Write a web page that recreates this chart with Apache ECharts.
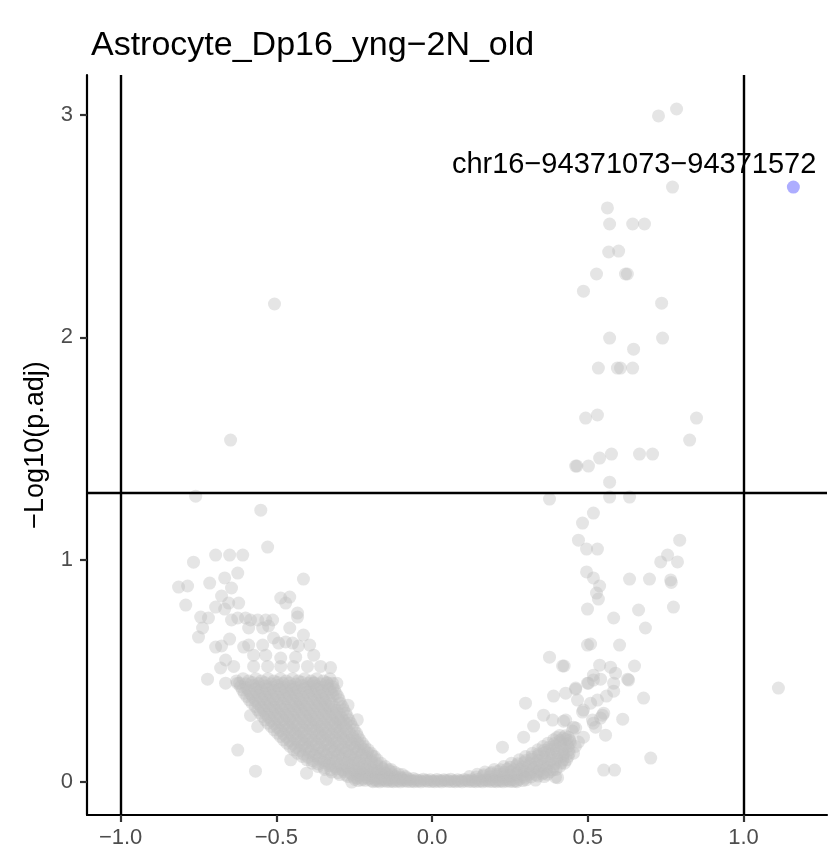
<!DOCTYPE html>
<html>
<head>
<meta charset="utf-8">
<script src="https://cdn.jsdelivr.net/npm/echarts@6/dist/echarts.min.js"></script>
<style>html,body{margin:0;padding:0;background:#fff;}#c{width:830px;height:857px;}</style>
</head>
<body>
<div id="c"></div>
<script>
const chartTitle = 'Astrocyte_Dp16_yng\u22122N_old';
const yAxisTitle = '\u2212Log10(p.adj)';
const xTicks = [-1, -0.5, 0, 0.5, 1];
const yTicks = [0, 1, 2, 3];
const xLimits = [-1.108, 1.268];
const yLimits = [-0.148, 3.18];
const vLines = [-1, 1];
const hLines = [1.30103];

// dense lower-left arm of the volcano (first layer)
const leftArm = [
[-0.628,0.455],[-0.607,0.465],[-0.589,0.455],[-0.566,0.465],[-0.548,0.455],[-0.527,0.465],[-0.508,0.455],[-0.487,0.465],[-0.469,0.455],[-0.448,0.465],[-0.43,0.455],[-0.409,0.465],[-0.388,0.455],[-0.37,0.465],[-0.349,0.455],[-0.328,0.465],
[-0.615,0.43],[-0.596,0.425],[-0.574,0.435],[-0.556,0.428],[-0.535,0.432],[-0.515,0.426],[-0.496,0.434],[-0.476,0.428],[-0.455,0.431],[-0.437,0.425],[-0.416,0.434],[-0.397,0.428],[-0.377,0.432],[-0.357,0.427],[-0.336,0.433],[-0.318,0.428],
[-0.603,0.4],[-0.582,0.396],[-0.562,0.404],[-0.543,0.398],[-0.523,0.402],[-0.503,0.397],[-0.484,0.405],[-0.463,0.399],[-0.443,0.401],[-0.424,0.396],[-0.404,0.404],[-0.384,0.398],[-0.364,0.402],[-0.345,0.397],[-0.324,0.403],[-0.308,0.398],
[-0.587,0.37],[-0.567,0.366],[-0.547,0.374],[-0.528,0.368],[-0.508,0.372],[-0.488,0.367],[-0.468,0.375],[-0.449,0.369],[-0.428,0.371],[-0.41,0.366],[-0.389,0.374],[-0.369,0.368],[-0.35,0.372],[-0.33,0.367],[-0.298,0.37],
[-0.568,0.34],[-0.548,0.336],[-0.529,0.344],[-0.509,0.338],[-0.49,0.342],[-0.47,0.337],[-0.45,0.345],[-0.431,0.339],[-0.411,0.341],[-0.392,0.336],[-0.372,0.344],[-0.352,0.338],[-0.333,0.342],[-0.313,0.337],[-0.288,0.34],
[-0.552,0.31],[-0.533,0.306],[-0.513,0.314],[-0.494,0.308],[-0.474,0.312],[-0.455,0.307],[-0.435,0.315],[-0.416,0.309],[-0.396,0.311],[-0.377,0.306],[-0.357,0.314],[-0.338,0.308],[-0.318,0.312],[-0.298,0.307],[-0.277,0.31],
[-0.536,0.28],[-0.516,0.276],[-0.497,0.284],[-0.477,0.278],[-0.458,0.282],[-0.438,0.277],[-0.419,0.285],[-0.399,0.279],[-0.38,0.281],[-0.36,0.276],[-0.341,0.284],[-0.321,0.278],[-0.302,0.282],[-0.284,0.277],[-0.267,0.28],
[-0.517,0.25],[-0.497,0.246],[-0.478,0.254],[-0.458,0.248],[-0.439,0.252],[-0.419,0.247],[-0.4,0.255],[-0.381,0.249],[-0.361,0.251],[-0.342,0.246],[-0.322,0.254],[-0.303,0.248],[-0.285,0.252],[-0.256,0.25],
[-0.496,0.22],[-0.477,0.216],[-0.457,0.224],[-0.438,0.218],[-0.419,0.222],[-0.4,0.217],[-0.38,0.225],[-0.361,0.219],[-0.342,0.221],[-0.322,0.216],[-0.303,0.224],[-0.284,0.218],[-0.265,0.222],[-0.243,0.22],
[-0.477,0.19],[-0.457,0.186],[-0.438,0.194],[-0.419,0.188],[-0.4,0.192],[-0.381,0.187],[-0.361,0.195],[-0.342,0.189],[-0.323,0.191],[-0.304,0.186],[-0.285,0.194],[-0.266,0.188],[-0.248,0.192],[-0.232,0.19],
[-0.456,0.16],[-0.437,0.156],[-0.418,0.164],[-0.399,0.158],[-0.38,0.162],[-0.361,0.157],[-0.342,0.165],[-0.323,0.159],[-0.304,0.161],[-0.285,0.156],[-0.266,0.164],[-0.248,0.158],[-0.23,0.162],[-0.216,0.16],
[-0.432,0.13],[-0.413,0.126],[-0.394,0.134],[-0.375,0.128],[-0.356,0.132],[-0.337,0.127],[-0.318,0.135],[-0.299,0.129],[-0.28,0.131],[-0.261,0.126],[-0.242,0.134],[-0.224,0.128],[-0.208,0.132],[-0.196,0.13],
[-0.402,0.1],[-0.383,0.096],[-0.364,0.104],[-0.345,0.098],[-0.326,0.102],[-0.307,0.097],[-0.288,0.105],[-0.269,0.099],[-0.25,0.101],[-0.232,0.096],[-0.213,0.104],[-0.195,0.098],[-0.176,0.1],
[-0.367,0.07],[-0.348,0.066],[-0.329,0.074],[-0.31,0.068],[-0.291,0.072],[-0.272,0.067],[-0.253,0.075],[-0.235,0.069],[-0.216,0.071],[-0.197,0.066],[-0.178,0.074],[-0.162,0.068],[-0.15,0.07],
[-0.322,0.045],[-0.303,0.042],[-0.284,0.048],[-0.265,0.043],[-0.246,0.047],[-0.227,0.042],[-0.209,0.049],[-0.19,0.044],[-0.171,0.046],[-0.152,0.042],[-0.134,0.048],[-0.12,0.044],
[-0.27,0.025],[-0.251,0.022],[-0.232,0.028],[-0.213,0.023],[-0.195,0.027],[-0.176,0.022],[-0.157,0.028],[-0.138,0.023],[-0.12,0.026],[-0.1,0.022],[-0.085,0.025]
];

// dense lower-left arm (second, interleaved layer)
const leftArmB = [
[-0.618,0.445],[-0.598,0.442],[-0.578,0.448],[-0.557,0.443],[-0.537,0.447],[-0.517,0.442],[-0.497,0.448],[-0.478,0.444],[-0.458,0.446],[-0.438,0.441],[-0.419,0.449],[-0.398,0.443],[-0.379,0.447],[-0.359,0.442],[-0.338,0.448],[-0.32,0.445],
[-0.609,0.415],[-0.589,0.412],[-0.568,0.418],[-0.549,0.413],[-0.529,0.417],[-0.509,0.412],[-0.489,0.418],[-0.469,0.414],[-0.449,0.416],[-0.43,0.411],[-0.41,0.419],[-0.39,0.413],[-0.37,0.417],[-0.351,0.412],[-0.33,0.418],[-0.313,0.415],
[-0.595,0.385],[-0.575,0.382],[-0.555,0.388],[-0.535,0.383],[-0.515,0.387],[-0.495,0.382],[-0.476,0.388],[-0.456,0.384],[-0.436,0.386],[-0.417,0.381],[-0.397,0.389],[-0.377,0.383],[-0.357,0.387],[-0.338,0.382],[-0.318,0.388],[-0.302,0.385],
[-0.578,0.355],[-0.558,0.352],[-0.538,0.358],[-0.519,0.353],[-0.499,0.357],[-0.479,0.352],[-0.459,0.358],[-0.44,0.354],[-0.42,0.356],[-0.401,0.351],[-0.381,0.359],[-0.361,0.353],[-0.342,0.357],[-0.322,0.352],[-0.295,0.355],
[-0.56,0.325],[-0.541,0.322],[-0.521,0.328],[-0.502,0.323],[-0.482,0.327],[-0.462,0.322],[-0.443,0.328],[-0.423,0.324],[-0.404,0.326],[-0.384,0.321],[-0.365,0.329],[-0.345,0.323],[-0.325,0.327],[-0.306,0.322],[-0.284,0.325],
[-0.544,0.295],[-0.525,0.292],[-0.505,0.298],[-0.486,0.293],[-0.466,0.297],[-0.447,0.292],[-0.427,0.298],[-0.408,0.294],[-0.388,0.296],[-0.369,0.291],[-0.349,0.299],[-0.33,0.293],[-0.31,0.297],[-0.291,0.292],[-0.272,0.295],
[-0.527,0.265],[-0.507,0.262],[-0.488,0.268],[-0.468,0.263],[-0.449,0.267],[-0.429,0.262],[-0.41,0.268],[-0.39,0.264],[-0.371,0.266],[-0.351,0.261],[-0.332,0.269],[-0.312,0.263],[-0.294,0.267],[-0.276,0.262],[-0.262,0.265],
[-0.507,0.235],[-0.487,0.232],[-0.468,0.238],[-0.448,0.233],[-0.429,0.237],[-0.41,0.232],[-0.39,0.238],[-0.371,0.234],[-0.352,0.236],[-0.332,0.231],[-0.313,0.239],[-0.294,0.233],[-0.275,0.237],[-0.25,0.235],
[-0.487,0.205],[-0.467,0.202],[-0.448,0.208],[-0.429,0.203],[-0.41,0.207],[-0.39,0.202],[-0.371,0.208],[-0.352,0.204],[-0.333,0.206],[-0.313,0.201],[-0.294,0.209],[-0.275,0.203],[-0.256,0.207],[-0.238,0.205],
[-0.466,0.175],[-0.447,0.172],[-0.428,0.178],[-0.409,0.173],[-0.39,0.177],[-0.371,0.172],[-0.352,0.178],[-0.333,0.174],[-0.314,0.176],[-0.295,0.171],[-0.276,0.179],[-0.257,0.173],[-0.239,0.177],[-0.224,0.175],
[-0.444,0.145],[-0.425,0.142],[-0.406,0.148],[-0.387,0.143],[-0.368,0.147],[-0.349,0.142],[-0.33,0.148],[-0.311,0.144],[-0.292,0.146],[-0.273,0.141],[-0.254,0.149],[-0.236,0.143],[-0.219,0.147],[-0.205,0.145],
[-0.417,0.115],[-0.398,0.112],[-0.379,0.118],[-0.36,0.113],[-0.341,0.117],[-0.322,0.112],[-0.303,0.118],[-0.284,0.114],[-0.265,0.116],[-0.246,0.111],[-0.228,0.119],[-0.21,0.113],[-0.192,0.117],[-0.185,0.115],
[-0.385,0.085],[-0.366,0.082],[-0.347,0.088],[-0.328,0.083],[-0.309,0.087],[-0.29,0.082],[-0.271,0.088],[-0.252,0.084],[-0.234,0.086],[-0.215,0.081],[-0.196,0.089],[-0.178,0.083],[-0.164,0.085],
[-0.345,0.057],[-0.326,0.055],[-0.307,0.059],[-0.288,0.056],[-0.269,0.058],[-0.25,0.054],[-0.231,0.06],[-0.213,0.056],[-0.194,0.058],[-0.175,0.054],[-0.157,0.059],[-0.14,0.056],[-0.132,0.057],
[-0.296,0.034],[-0.277,0.032],[-0.258,0.036],[-0.239,0.033],[-0.22,0.035],[-0.201,0.032],[-0.183,0.037],[-0.164,0.033],[-0.145,0.035],[-0.126,0.032],[-0.108,0.036],[-0.095,0.034],
[-0.24,0.018],[-0.22,0.017],[-0.2,0.019],[-0.18,0.017],[-0.16,0.018],[-0.14,0.016],[-0.12,0.019],[-0.1,0.017],[-0.08,0.018],[-0.06,0.016]
];

// flat floor around zero fold change
const floorPts = [
[-0.248,0.012],[-0.226,0.01],[-0.204,0.013],[-0.182,0.011],[-0.16,0.012],[-0.138,0.01],[-0.116,0.013],[-0.094,0.011],[-0.072,0.012],[-0.05,0.01],[-0.028,0.013],[-0.006,0.011],[0.016,0.012],[0.038,0.01],[0.06,0.013],[0.082,0.011],[0.104,0.012],[0.126,0.01],[0.148,0.013],[0.17,0.011],[0.192,0.012],[0.214,0.01],[0.236,0.013],[0.258,0.011],[0.28,0.012],[0.302,0.01],
[-0.19,0.002],[-0.168,0.001],[-0.146,0.003],[-0.124,0.002],[-0.102,0.001],[-0.08,0.003],[-0.058,0.002],[-0.036,0.001],[-0.014,0.003],[0.008,0.002],[0.03,0.001],[0.052,0.003],[0.074,0.002],[0.096,0.001],[0.118,0.003],[0.14,0.002],[0.162,0.001],[0.184,0.003],[0.206,0.002],[0.228,0.001],[0.25,0.003],[0.272,0.002],
[-0.237,0.007],[-0.215,0.008],[-0.193,0.006],[-0.171,0.007],[-0.149,0.008],[-0.127,0.006],[-0.105,0.007],[-0.083,0.008],[-0.061,0.006],[-0.039,0.007],[-0.017,0.008],[0.005,0.006],[0.027,0.007],[0.049,0.008],[0.071,0.006],[0.093,0.007],[0.115,0.008],[0.137,0.006],[0.159,0.007],[0.181,0.008],[0.203,0.006],[0.225,0.007],[0.247,0.008],[0.269,0.006],[0.291,0.007],
[-0.179,0.004],[-0.157,0.005],[-0.135,0.003],[-0.113,0.004],[-0.091,0.005],[-0.069,0.003],[-0.047,0.004],[-0.025,0.005],[-0.003,0.003],[0.019,0.004],[0.041,0.005],[0.063,0.003],[0.085,0.004],[0.107,0.005],[0.129,0.003],[0.151,0.004],[0.173,0.005],[0.195,0.003],[0.217,0.004],[0.239,0.005],[0.261,0.003]
];

// dense lower-right arm of the volcano
const rightArm = [
[0.12,0.025],[0.142,0.023],[0.164,0.027],[0.186,0.024],[0.208,0.026],[0.23,0.023],[0.252,0.027],[0.274,0.024],[0.296,0.026],[0.318,0.023],[0.34,0.027],[0.36,0.025],
[0.17,0.045],[0.19,0.043],[0.211,0.048],[0.232,0.044],[0.253,0.047],[0.274,0.043],[0.295,0.048],[0.316,0.044],[0.337,0.046],[0.358,0.043],[0.378,0.046],
[0.23,0.07],[0.25,0.067],[0.27,0.073],[0.29,0.068],[0.31,0.072],[0.33,0.067],[0.35,0.073],[0.37,0.069],[0.39,0.071],[0.41,0.07],
[0.28,0.1],[0.3,0.097],[0.32,0.103],[0.34,0.098],[0.36,0.102],[0.38,0.097],[0.4,0.103],[0.42,0.099],[0.432,0.1],
[0.322,0.13],[0.342,0.127],[0.362,0.133],[0.382,0.128],[0.402,0.132],[0.422,0.127],[0.44,0.13],
[0.356,0.16],[0.376,0.157],[0.396,0.163],[0.416,0.158],[0.436,0.161],
[0.39,0.19],[0.41,0.187],[0.43,0.192],[0.442,0.188],
[0.41,0.21],[0.428,0.208],
[0.145,0.035],[0.166,0.033],[0.187,0.037],[0.208,0.034],[0.229,0.036],[0.25,0.033],[0.271,0.037],[0.292,0.034],[0.313,0.036],[0.334,0.033],[0.355,0.037],[0.37,0.035],
[0.2,0.057],[0.22,0.055],[0.241,0.059],[0.262,0.056],[0.283,0.058],[0.304,0.055],[0.325,0.059],[0.346,0.056],[0.367,0.058],[0.388,0.055],[0.398,0.057],
[0.255,0.085],[0.275,0.083],[0.295,0.087],[0.315,0.084],[0.335,0.086],[0.355,0.083],[0.375,0.087],[0.395,0.084],[0.415,0.086],[0.425,0.085],
[0.3,0.115],[0.32,0.113],[0.34,0.117],[0.36,0.114],[0.38,0.116],[0.4,0.113],[0.42,0.117],[0.437,0.115],
[0.34,0.145],[0.36,0.143],[0.38,0.147],[0.4,0.144],[0.42,0.146],[0.44,0.145],
[0.372,0.175],[0.392,0.173],[0.412,0.177],[0.432,0.174],[0.444,0.176],
[0.4,0.2],[0.42,0.198],[0.437,0.202]
];

// scattered points away from the dense body
const leftScatter = [
[-0.528,1.057],[-0.766,0.989],[-0.695,1.021],[-0.650,1.021],[-0.608,1.021],[-0.413,0.913],[-0.814,0.877],[-0.785,0.882],[-0.714,0.895],[-0.666,0.918],[-0.624,0.940],[-0.644,0.873],[-0.791,0.796],[-0.676,0.837],[-0.653,0.805],[-0.621,0.805],[-0.486,0.828],[-0.457,0.832],[-0.470,0.805],[-0.695,0.787],[-0.666,0.778],[-0.743,0.742],[-0.718,0.738],[-0.432,0.760],[-0.432,0.742],[-0.624,0.738],[-0.644,0.729],[-0.599,0.738],[-0.583,0.729],[-0.560,0.729],[-0.534,0.729],[-0.512,0.729],[-0.589,0.693],[-0.544,0.693],[-0.525,0.702],[-0.737,0.693],[-0.750,0.652],[-0.457,0.693],[-0.650,0.643],[-0.695,0.607],[-0.676,0.612],[-0.605,0.607],[-0.589,0.616],[-0.544,0.616],[-0.509,0.648],[-0.493,0.625],[-0.470,0.630],[-0.448,0.625],[-0.429,0.612],[-0.413,0.661],[-0.393,0.616],[-0.573,0.571],[-0.534,0.571],[-0.486,0.558],[-0.438,0.562],[-0.380,0.571],[-0.663,0.549],[-0.679,0.513],[-0.721,0.463],[-0.663,0.445],[-0.624,0.144],[-0.567,0.049],
[-0.637,0.52],[-0.573,0.52],[-0.528,0.52],[-0.486,0.52],[-0.445,0.52],[-0.400,0.52],[-0.358,0.52],[-0.326,0.515],[-0.625,0.445],[-0.38,0.445],[-0.337,0.445],[-0.306,0.445],
[-0.759,1.286],[-0.647,1.538],[-0.506,2.15],[-0.550,1.223],
[-0.583,0.30],[-0.560,0.25],[-0.454,0.10],[-0.403,0.04],[-0.339,0.013],[-0.258,0.0],[-0.27,0.346],[-0.24,0.28]
];
const rightScatter = [
[0.785,3.027],[0.727,2.996],[0.772,2.676],[0.563,2.582],[0.570,2.510],[0.644,2.510],[0.682,2.510],[0.567,2.384],[0.599,2.388],[0.528,2.285],[0.621,2.285],[0.627,2.285],[0.486,2.208],[0.737,2.154],[0.570,1.997],[0.740,1.997],[0.647,1.947],[0.534,1.862],[0.595,1.862],[0.605,1.862],[0.644,1.862],
[0.493,1.637],[0.531,1.651],[0.849,1.637],[0.827,1.538],[0.461,1.421],[0.465,1.421],[0.502,1.421],[0.538,1.457],[0.576,1.475],[0.666,1.475],[0.708,1.475],[0.570,1.349],[0.377,1.273],[0.570,1.282],[0.634,1.282],[0.518,1.210],[0.483,1.165],[0.470,1.088],[0.496,1.048],[0.531,1.048],[0.795,1.088],[0.756,1.021],[0.734,0.990],[0.788,0.990],[0.496,0.945],[0.518,0.918],[0.538,0.882],[0.528,0.850],[0.534,0.823],[0.634,0.913],[0.698,0.913],[0.766,0.909],[0.768,0.898],[0.499,0.778],[0.583,0.738],[0.663,0.774],[0.775,0.787],[0.685,0.693],[0.499,0.616],[0.509,0.621],[0.602,0.616],
[0.377,0.562],[0.419,0.522],[0.424,0.522],[0.538,0.526],[0.573,0.517],[0.589,0.490],[0.650,0.522],[0.631,0.459],[0.628,0.463],[0.518,0.481],[0.502,0.445],[0.461,0.418],[0.390,0.387],[0.429,0.400],[0.300,0.355],[0.467,0.369],[0.531,0.369],[0.560,0.387],[0.583,0.409],[0.679,0.378],[1.112,0.423],[0.358,0.301],[0.387,0.279],[0.422,0.274],[0.483,0.315],[0.551,0.310],[0.541,0.288],[0.612,0.283],[0.515,0.279],[0.525,0.247],[0.486,0.202],[0.557,0.211],[0.326,0.252],[0.461,0.243],[0.454,0.130],[0.702,0.108],[0.551,0.054],[0.586,0.054],[0.396,0.022],[0.332,0.009],[0.300,0.018],
[0.226,0.157],[0.294,0.202],[0.461,0.423],[0.499,0.445],[0.518,0.459],[0.541,0.463],[0.583,0.445],[0.486,0.324],[0.509,0.355],[0.547,0.301],[0.518,0.265],[0.429,0.279],[0.454,0.247],[0.46,0.16],[0.47,0.18],[0.45,0.23],[0.403,0.02]
];

const highlightPts = [[1.160, 2.676]];
const highlightLabel = ['chr16\u221294371073\u221294371572'];

const FONT = 'Liberation Sans, Arial, Helvetica, sans-serif';
const grey = 'rgba(190,190,190,0.5)';
const fmt = v => (v < 0 ? '\u2212' : '') + Math.abs(v).toFixed(1);
const greySeries = d => ({type: 'scatter', data: d, symbolSize: 13, itemStyle: {color: grey}, silent: true});

const chart = echarts.init(document.getElementById('c'), null, {renderer: 'canvas'});
chart.setOption({
  animation: false,
  backgroundColor: '#fff',
  title: {
    text: chartTitle, left: 86, top: 24,
    textStyle: {fontFamily: FONT, fontSize: 34, fontWeight: 'normal', color: '#000'}
  },
  grid: {left: 87, right: 3, top: 75, bottom: 42, containLabel: false},
  xAxis: {
    type: 'value', min: xLimits[0], max: xLimits[1],
    axisLine: {show: true, onZero: false, lineStyle: {color: '#000', width: 2.2}},
    axisTick: {show: true, customValues: xTicks, length: 7, lineStyle: {color: '#333', width: 2.2}},
    axisLabel: {customValues: xTicks, formatter: fmt, margin: 12, fontFamily: FONT, fontSize: 22, color: '#4D4D4D'},
    splitLine: {show: false}
  },
  yAxis: {
    type: 'value', min: yLimits[0], max: yLimits[1],
    name: yAxisTitle, nameLocation: 'middle', nameRotate: 90, nameGap: 38,
    nameTextStyle: {fontFamily: FONT, fontSize: 27, color: '#000'},
    axisLine: {show: true, onZero: false, lineStyle: {color: '#000', width: 2.2}},
    axisTick: {show: true, customValues: yTicks, length: 7, lineStyle: {color: '#333', width: 2.2}},
    axisLabel: {customValues: yTicks, formatter: v => String(v), margin: 14, fontFamily: FONT, fontSize: 22, color: '#4D4D4D'},
    splitLine: {show: false}
  },
  series: [
    greySeries(leftArm),
    greySeries(leftArmB),
    greySeries(floorPts),
    greySeries(rightArm),
    greySeries(leftScatter),
    greySeries(rightScatter),
    {
      type: 'scatter', data: highlightPts, symbolSize: 13, itemStyle: {color: 'rgba(0,0,255,0.4)'}, silent: true, z: 3,
      label: {
        show: true, position: 'inside', align: 'right', verticalAlign: 'middle', offset: [23, -22],
        formatter: p => highlightLabel[p.dataIndex],
        fontFamily: FONT, fontSize: 29, color: '#000000', opacity: 1,
        textBorderWidth: 0, textBorderColor: 'transparent', textShadowBlur: 0
      }
    },
    {
      type: 'scatter', data: [], z: 10, silent: true,
      markLine: {
        silent: true, symbol: 'none', animation: false,
        label: {show: false},
        lineStyle: {color: '#000', width: 2.4, type: 'solid'},
        data: vLines.map(v => ({xAxis: v})).concat(hLines.map(v => ({yAxis: v})))
      }
    }
  ]
});
</script>
</body>
</html>
